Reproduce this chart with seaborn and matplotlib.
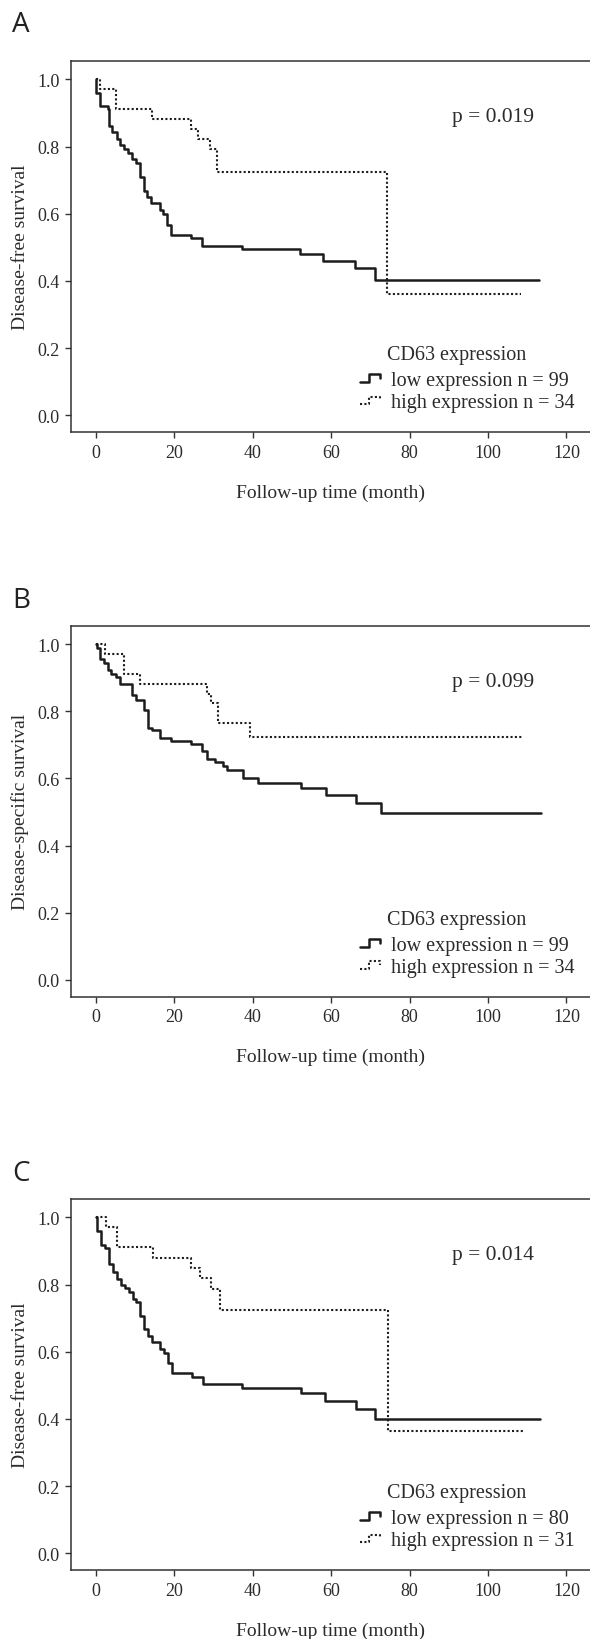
import seaborn as sns
import matplotlib
matplotlib.use("Agg")
import matplotlib.pyplot as plt
from matplotlib.lines import Line2D
from matplotlib.legend_handler import HandlerLine2D

# ---- data (months, survival) ----
a_low_t = [0, 0.1, 0.9, 3.0, 3.2, 4.1, 5.3, 6.1, 7.1, 8.1, 9.1, 10.2, 11.1, 12.1, 13.1, 14.0,
           16.2, 17.1, 18.2, 19.0, 24.3, 27.1, 37.1, 52.0, 58.0, 66.1, 71.1, 113.1]
a_low_s = [1.0, 0.960, 0.921, 0.911, 0.861, 0.844, 0.822, 0.805, 0.792, 0.782, 0.762, 0.752, 0.710,
           0.669, 0.649, 0.632, 0.611, 0.600, 0.568, 0.537, 0.527, 0.504, 0.494, 0.480, 0.460,
           0.438, 0.403, 0.403]
a_high_t = [0, 1.1, 5.1, 14.2, 24.1, 26.1, 29.0, 30.9, 74.1, 108.3]
a_high_s = [1.0, 0.971, 0.912, 0.882, 0.853, 0.824, 0.794, 0.723, 0.362, 0.362]

b_low_t = [0, 0.3, 0.9, 2.0, 3.0, 3.9, 5.1, 6.1, 9.1, 10.2, 12.2, 13.3, 14.3, 16.2, 19.1, 24.3,
           27.1, 28.3, 30.4, 32.5, 33.3, 37.4, 41.4, 52.3, 58.6, 66.2, 72.7, 113.6]
b_low_s = [1.0, 0.990, 0.955, 0.944, 0.923, 0.912, 0.901, 0.880, 0.848, 0.834, 0.805, 0.751, 0.743,
           0.721, 0.712, 0.702, 0.681, 0.658, 0.648, 0.636, 0.626, 0.601, 0.586, 0.572, 0.551,
           0.527, 0.498, 0.498]
b_high_t = [0, 2.3, 7.1, 11.3, 28.3, 29.2, 31.1, 39.3, 108.9]
b_high_s = [1.0, 0.971, 0.912, 0.882, 0.853, 0.824, 0.765, 0.723, 0.723]

c_low_t = [0, 0.2, 1.25, 2.4, 3.4, 4.3, 5.4, 6.3, 7.4, 8.4, 9.3, 10.2, 11.2, 12.1, 13.2, 14.2,
           16.3, 17.3, 18.4, 19.3, 24.4, 27.4, 37.3, 52.4, 58.5, 66.3, 71.2, 113.2]
c_low_s = [1.0, 0.959, 0.919, 0.909, 0.860, 0.839, 0.817, 0.800, 0.789, 0.779, 0.758, 0.748, 0.708,
           0.668, 0.647, 0.628, 0.607, 0.596, 0.567, 0.536, 0.526, 0.504, 0.493, 0.476, 0.454,
           0.431, 0.400, 0.400]
c_high_t = [0, 2.6, 5.4, 14.5, 24.3, 26.6, 29.4, 31.5, 74.5, 108.8]
c_high_s = [1.0, 0.971, 0.911, 0.880, 0.849, 0.819, 0.787, 0.723, 0.363, 0.363]

panel_letters = ["A", "B", "C"]
ylabels = ["Disease-free survival", "Disease-specific survival", "Disease-free survival"]
pvalues = ["p = 0.019", "p = 0.099", "p = 0.014"]
n_low = [99, 99, 80]
n_high = [34, 34, 31]
x_ticks = [0, 20, 40, 60, 80, 100, 120]
y_ticks = [0.0, 0.2, 0.4, 0.6, 0.8, 1.0]

curves = [
    (a_low_t, a_low_s, a_high_t, a_high_s),
    (b_low_t, b_low_s, b_high_t, b_high_s),
    (c_low_t, c_low_s, c_high_t, c_high_s),
]


class StepHandler(HandlerLine2D):
    # little step-shaped legend key like in the original
    def create_artists(self, legend, orig_handle, xdescent, ydescent, width, height, fontsize, trans):
        x0, y0 = -xdescent, -ydescent
        xs = [x0, x0 + 0.45 * width, x0 + 0.45 * width, x0 + width, x0 + width]
        ys = [y0 + 0.2 * height, y0 + 0.2 * height, y0 + 0.75 * height, y0 + 0.75 * height, y0 + 0.5 * height]
        line = Line2D(xs, ys)
        self.update_prop(line, orig_handle, legend)
        line.set_transform(trans)
        return [line]


sns.set_style("ticks")
plt.rcParams["font.family"] = ["Liberation Serif", "DejaVu Serif"]
text_col = "#2b2b2b"

fig = plt.figure(figsize=(5.9, 16.4), dpi=100)

# panel tops in pixels (figure is 1640 px tall)
tops = [62, 626.7, 1200]
letter_base = [32, 608, 1181]
H = 1640.0
ax_h = 371 / H
left = 71 / 590.0

for i, (lt, ls_, ht, hs) in enumerate(curves):
    bottom = 1 - (tops[i] + 371) / H
    ax = fig.add_axes([left, bottom, 1 - left, ax_h])

    sns.lineplot(x=lt, y=ls_, ax=ax, drawstyle="steps-post", estimator=None,
                 color="#1c1c1c", linewidth=1.8, label=f"low expression n = {n_low[i]}")
    sns.lineplot(x=ht, y=hs, ax=ax, drawstyle="steps-post", estimator=None,
                 color="#1c1c1c", linewidth=1.5, linestyle=(0, (1, 1.1)),
                 label=f"high expression n = {n_high[i]}")

    ax.set_xlim(-6.4, 126.0)
    ax.set_ylim(-0.05, 1.055)
    ax.set_xticks(x_ticks)
    ax.set_yticks(y_ticks)
    ax.set_xticklabels([str(t) for t in x_ticks])
    ax.set_yticklabels([f"{t:.1f}" for t in y_ticks])
    ax.tick_params(direction="out", length=4.3, width=1.0, colors="#333333",
                   labelsize=13, pad=4, labelcolor=text_col)
    for side in ["left", "bottom", "top"]:
        ax.spines[side].set_color("#333333")
        ax.spines[side].set_linewidth(1.1)
    ax.spines["right"].set_visible(False)

    ax.set_xlabel("Follow-up time (month)", fontsize=14, color=text_col)
    ax.xaxis.set_label_coords(0.5, -0.162)
    ax.xaxis.label.set_va("center")
    ax.set_ylabel(ylabels[i], fontsize=14, color=text_col)
    ax.yaxis.set_label_coords(-0.0973, 0.5)
    ax.yaxis.label.set_va("center")

    ax.text(101.2, 0.89, pvalues[i], fontsize=15.5, ha="center", va="center", color=text_col)
    ax.text(74.3, 0.18, "CD63 expression", fontsize=14.5, ha="left", va="center", color=text_col)

    handles = ax.get_lines()[:2]
    leg = ax.legend(handles=handles, labels=[h.get_label() for h in handles],
                    handler_map={Line2D: StepHandler()},
                    loc="upper left", bbox_to_anchor=(67.3, 0.132), bbox_transform=ax.transData,
                    frameon=False, fontsize=14.5, handlelength=1.0, handletextpad=0.55,
                    labelspacing=0.15, borderpad=0, borderaxespad=0, labelcolor=text_col)

    fig.text(12 / 590.0, 1 - letter_base[i] / H, panel_letters[i], family=["Open Sans", "DejaVu Sans"],
             fontsize=20, color="#222222", va="baseline", ha="left")

fig.savefig("out.png", dpi=100)
